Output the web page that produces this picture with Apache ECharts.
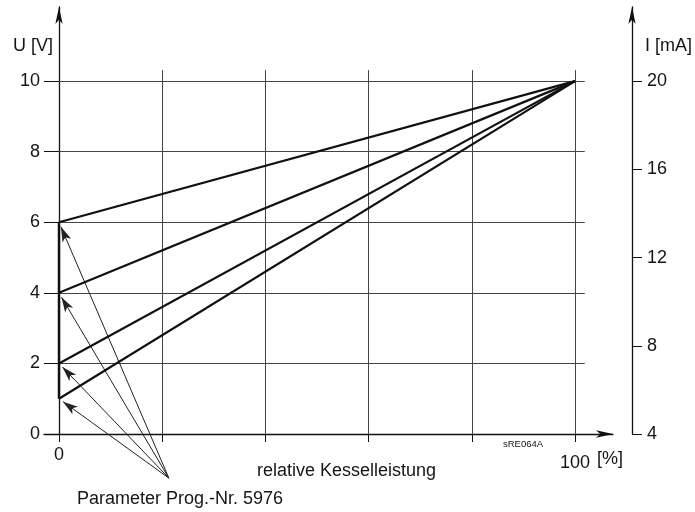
<!DOCTYPE html>
<html>
<head>
<meta charset="utf-8">
<script src="https://cdn.jsdelivr.net/npm/echarts@6/dist/echarts.min.js"></script>
<style>
  html, body { margin: 0; padding: 0; background: #fff; }
  #main { width: 695px; height: 512px; }
</style>
</head>
<body>
<div id="main"></div>
<script>
// ticks / labels
const xTicks = [0, 20, 40, 60, 80, 100];
const xLabels = [0, 100];
const uTicks = [0, 2, 4, 6, 8, 10];
const iTicks = [4, 8, 12, 16, 20];

// characteristic lines: start voltage at 0 % -> 10 V at 100 %
const startVoltages = [6, 4, 2, 1];
const endPoint = [100, 10];
// where the "Parameter" arrows come from
const paramSource = [21.3, -1.25];

// axis extents (axes run a bit past the grid, with arrows)
const X_MIN = -2.9, X_MAX = 107.37;
const U_MAX = 12.1;
const I_MIN = 4, I_MAX = 4 + 1.6 * U_MAX;
const GRID_X_END = 101.9;   // horizontal grid lines overshoot 100 %
const GRID_U_END = 10.31;   // vertical grid lines overshoot 10 V

const FONT = 'Liberation Sans';
const TXT = '#151515';
const INK = '#111';

const hLines = uTicks.filter(v => v > 0).map(v => ({ coords: [[0, v], [GRID_X_END, v]] }));
const vLines = xTicks.filter(v => v > 0).map(v => ({ coords: [[v, 0], [v, GRID_U_END]] }));

const series = startVoltages.map(u => ({
  type: 'line',
  data: [[0, u], endPoint],
  symbol: 'none',
  lineStyle: { color: INK, width: 2.2 },
  silent: true
}));
series.push({
  type: 'line',
  data: [[0, Math.min(...startVoltages)], [0, Math.max(...startVoltages)]],
  symbol: 'none',
  lineStyle: { color: INK, width: 2.4 },
  silent: true
});
series.push({
  type: 'lines',
  coordinateSystem: 'cartesian2d',
  data: hLines.concat(vLines),
  lineStyle: { color: '#444', width: 1, opacity: 1 },
  symbol: 'none',
  silent: true,
  z: 1
});
series.push({
  id: 'arrows',
  type: 'lines',
  coordinateSystem: 'cartesian2d',
  clip: false,
  data: [],
  symbol: ['none', 'arrow'],
  symbolSize: [1, [7, 15]],
  lineStyle: { color: '#222', width: 1, opacity: 1 },
  silent: true
});

const axisLineStyle = { color: INK, width: 1.3 };
const labelStyle = { fontFamily: FONT, fontSize: 18, color: TXT };

const option = {
  animation: false,
  backgroundColor: '#fff',
  grid: { left: 44, right: 82, top: 7, bottom: 78 },
  xAxis: {
    type: 'value',
    min: X_MIN,
    max: X_MAX,
    splitLine: { show: false },
    axisLine: { show: true, onZero: false, lineStyle: axisLineStyle, symbol: ['none', 'arrow'], symbolSize: [5.5, 17] },
    axisTick: { show: true, length: 8, customValues: xTicks, lineStyle: { color: INK, width: 1 } },
    axisLabel: Object.assign({
      margin: 12,
      customValues: xLabels,
      formatter: v => v === 100 ? '{lo|100}' : String(v),
      rich: { lo: { fontFamily: FONT, fontSize: 18, color: TXT, padding: [8, 0, 0, 0] } }
    }, labelStyle)
  },
  yAxis: [{
    type: 'value',
    min: 0,
    max: U_MAX,
    offset: -15,
    splitLine: { show: false },
    axisLine: { show: true, onZero: false, lineStyle: axisLineStyle, symbol: ['none', 'arrow'], symbolSize: [5.5, 17] },
    axisTick: { show: true, length: 15, customValues: uTicks, lineStyle: { color: INK, width: 1 } },
    axisLabel: Object.assign({ margin: 19, customValues: uTicks }, labelStyle)
  }, {
    type: 'value',
    position: 'right',
    offset: 19,
    min: I_MIN,
    max: I_MAX,
    splitLine: { show: false },
    axisLine: { show: true, onZero: false, lineStyle: axisLineStyle, symbol: ['none', 'arrow'], symbolSize: [5.5, 17] },
    axisTick: { show: true, length: 10, customValues: iTicks, lineStyle: { color: INK, width: 1 } },
    axisLabel: Object.assign({ margin: 15, customValues: iTicks }, labelStyle)
  }],
  graphic: [
    { type: 'text', left: 13, top: 37, style: { text: 'U [V]', font: '18px ' + FONT, fill: TXT } },
    { type: 'text', left: 645, top: 37, style: { text: 'I [mA]', font: '18px ' + FONT, fill: TXT } },
    { type: 'text', left: 597, top: 450, style: { text: '[%]', font: '18px ' + FONT, fill: TXT } },
    { type: 'text', left: 503, top: 439, style: { text: 'sRE064A', font: '9.5px ' + FONT, fill: TXT } },
    { type: 'text', left: 257, top: 462, style: { text: 'relative Kesselleistung', font: '18px ' + FONT, fill: TXT } },
    { type: 'text', left: 77, top: 490, style: { text: 'Parameter Prog.-Nr. 5976', font: '18px ' + FONT, fill: TXT } }
  ],
  series: series
};

const chart = echarts.init(document.getElementById('main'), null, { renderer: 'canvas' });
chart.setOption(option);

// arrow tips stop a few px short of the start points
const ARROW_BACK = 5;
const finder = { seriesIndex: 0 };
const src = chart.convertToPixel(finder, paramSource);
const arrowData = startVoltages.map(u => {
  const tip = chart.convertToPixel(finder, [0, u]);
  const dx = src[0] - tip[0], dy = src[1] - tip[1];
  const len = Math.hypot(dx, dy);
  const end = [tip[0] + dx / len * ARROW_BACK, tip[1] + dy / len * ARROW_BACK];
  return { coords: [paramSource, chart.convertFromPixel(finder, end)] };
});
chart.setOption({ series: [{ id: 'arrows', data: arrowData }] });
</script>
</body>
</html>
